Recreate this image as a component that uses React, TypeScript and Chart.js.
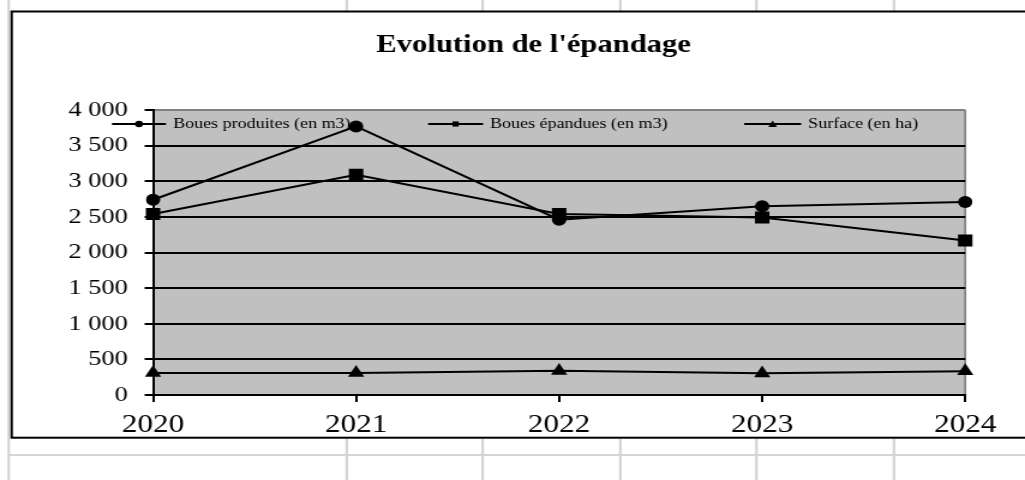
import React, { useEffect, useRef } from 'react';
import { Chart, registerables } from 'chart.js';

Chart.register(...registerables);

// ---- data ----
const years = ['2020', '2021', '2022', '2023', '2024'];
const bouesProduites = [2740, 3770, 2460, 2650, 2710];
const bouesEpandues = [2540, 3090, 2540, 2490, 2170];
const surface = [310, 310, 340, 305, 335];
const seriesLabels = ['Boues produites (en m3)', 'Boues épandues (en m3)', 'Surface (en ha)'];
const chartTitle = "Evolution de l'épandage";
const yMin = 0;
const yMax = 4000;
const yStep = 500;

// ---- layout (native canvas, stretched horizontally like the reference) ----
const W = 854;
const H = 480;
const SX = 1025 / W;
const SERIF = '"Liberation Serif", "Times New Roman", serif';

const fmt = (v: number) => String(v).replace(/\B(?=(\d{3})+(?!\d))/g, ' ');

function drawMarker(ctx: CanvasRenderingContext2D, style: string, x: number, y: number, r: number) {
  ctx.beginPath();
  if (style === 'circle') {
    ctx.arc(x, y, r, 0, Math.PI * 2);
  } else if (style === 'rect') {
    ctx.rect(x - r, y - r, 2 * r, 2 * r);
  } else {
    ctx.moveTo(x, y - r);
    ctx.lineTo(x + r, y + r * 0.8);
    ctx.lineTo(x - r, y + r * 0.8);
    ctx.closePath();
  }
  ctx.fill();
}

const backdrop = {
  id: 'backdrop',
  beforeDraw(chart: any) {
    const { ctx, chartArea: a } = chart;
    ctx.save();
    ctx.fillStyle = '#ffffff';
    ctx.fillRect(0, 0, W, H);
    // spreadsheet cell lines
    ctx.strokeStyle = '#d4d4d4';
    ctx.lineWidth = 2.2;
    for (const x of [7.2, 288.9, 402.1, 516.9, 630.3, 744.8]) {
      ctx.beginPath();
      ctx.moveTo(x, 0);
      ctx.lineTo(x, H);
      ctx.stroke();
    }
    ctx.lineWidth = 2;
    ctx.beginPath();
    ctx.moveTo(7.2, 455);
    ctx.lineTo(W, 455);
    ctx.stroke();
    // chart frame
    ctx.fillStyle = '#ffffff';
    ctx.fillRect(9.7, 11.5, W + 20, 426.2);
    ctx.strokeStyle = '#000000';
    ctx.lineWidth = 2;
    ctx.strokeRect(9.7, 11.5, W + 20, 426.2);
    // title (centred on the chart frame, which runs past the right edge)
    ctx.fillStyle = '#000';
    ctx.font = `bold 25.5px ${SERIF}`;
    ctx.textAlign = 'center';
    ctx.textBaseline = 'middle';
    ctx.fillText(chart.options.plugins.frameTitle.text, 444.6, 45);
    // plot area
    ctx.fillStyle = '#c0c0c0';
    ctx.fillRect(a.left, a.top, a.right - a.left, a.bottom - a.top);
    ctx.strokeStyle = '#808080';
    ctx.lineWidth = 1.7;
    ctx.beginPath();
    ctx.moveTo(a.right, a.top);
    ctx.lineTo(a.right, a.bottom);
    ctx.stroke();
    ctx.restore();
  },
};

const legendPos = [
  { x1: 93.3, x2: 138.3, tx: 144.2, r: 3.3 },
  { x1: 356.7, x2: 402.5, tx: 408.3, r: 2.6 },
  { x1: 620, x2: 667.5, tx: 673.3, r: 3.6 },
];

const insideLegend = {
  id: 'insideLegend',
  beforeDatasetsDraw(chart: any) {
    const { ctx } = chart;
    const y = 124;
    ctx.save();
    chart.data.datasets.forEach((ds: any, i: number) => {
      const p = legendPos[i];
      ctx.strokeStyle = '#000';
      ctx.lineWidth = 2;
      ctx.beginPath();
      ctx.moveTo(p.x1, y);
      ctx.lineTo(p.x2, y);
      ctx.stroke();
      ctx.fillStyle = '#000';
      drawMarker(ctx, ds.pointStyle, (p.x1 + p.x2) / 2, y, p.r);
      ctx.font = `15px ${SERIF}`;
      ctx.textAlign = 'left';
      ctx.textBaseline = 'middle';
      ctx.fillText(ds.label, p.tx, y);
    });
    ctx.restore();
  },
};

export default function App() {
  const ref = useRef<HTMLCanvasElement>(null);

  useEffect(() => {
    if (!ref.current) return;
    const common = {
      borderColor: '#000',
      backgroundColor: '#000',
      pointBackgroundColor: '#000',
      pointBorderColor: '#000',
      pointBorderWidth: 0,
      borderWidth: 2,
      tension: 0,
      fill: false,
    };
    const chart = new Chart(ref.current, {
      type: 'line',
      data: {
        labels: years,
        datasets: [
          { ...common, label: seriesLabels[0], data: bouesProduites, pointStyle: 'circle', pointRadius: 6 },
          { ...common, label: seriesLabels[1], data: bouesEpandues, pointStyle: 'rect', pointRadius: 8.5 },
          { ...common, label: seriesLabels[2], data: surface, pointStyle: 'triangle', pointRadius: 7.8 },
        ],
      },
      options: {
        responsive: false,
        maintainAspectRatio: false,
        devicePixelRatio: 1,
        animation: false,
        layout: { padding: { top: 110, left: 0, right: 49.8, bottom: 0 } },
        plugins: {
          legend: { display: false },
          tooltip: { enabled: false },
          title: { display: false },
          frameTitle: { text: chartTitle },
        },
        scales: {
          x: {
            offset: false,
            ticks: { color: '#000', font: { family: SERIF, size: 26 }, padding: 8, maxRotation: 0, autoSkip: false },
            grid: { drawOnChartArea: false, drawTicks: true, tickLength: 7, color: '#000', lineWidth: 2 },
            border: { display: true, color: '#000', width: 2 },
            afterFit: (s: any) => {
              s.height = 85;
            },
          },
          y: {
            min: yMin,
            max: yMax,
            ticks: {
              stepSize: yStep,
              color: '#000',
              font: { family: SERIF, size: 22 },
              padding: 14,
              callback: (v: any) => fmt(Number(v)),
            },
            grid: {
              color: (c: any) => (c.tick && c.tick.value === yMax ? '#808080' : '#000'),
              tickColor: '#000',
              lineWidth: 2,
              tickLength: 7,
              drawTicks: true,
            },
            border: { display: true, color: '#000', width: 2 },
            afterFit: (s: any) => {
              s.width = 127.5;
            },
          },
        },
      },
      plugins: [backdrop, insideLegend],
    } as any);
    return () => chart.destroy();
  }, []);

  return (
    <div
      style={{
        position: 'fixed',
        left: 0,
        top: 0,
        width: W,
        height: H,
        transform: `scaleX(${SX})`,
        transformOrigin: '0 0',
      }}
    >
      <canvas ref={ref} width={W} height={H} style={{ display: 'block', width: W, height: H }} />
    </div>
  );
}
